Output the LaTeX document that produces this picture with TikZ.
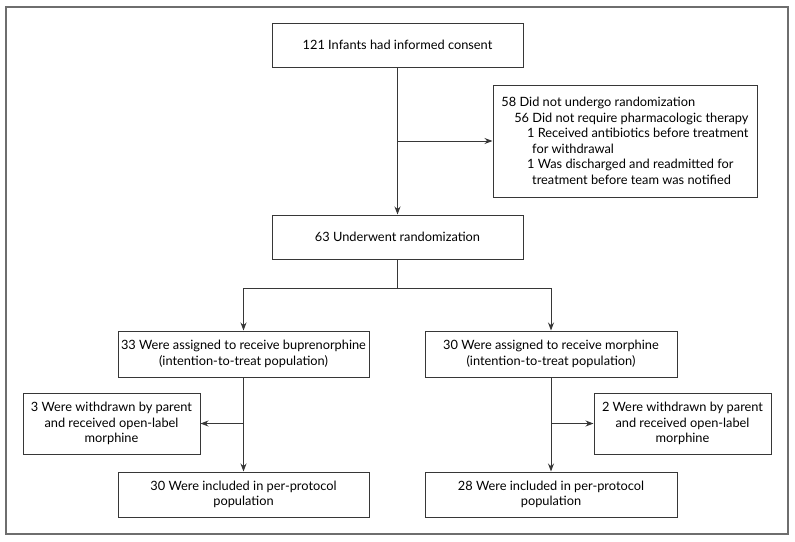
\documentclass[tikz,border=0pt]{standalone}
\usepackage{fontspec}
\setmainfont{Lato}
\usetikzlibrary{arrows.meta, positioning, calc}
\definecolor{boxline}{RGB}{55,55,55}
\definecolor{frameline}{RGB}{110,110,110}

\tikzset{
  flowbox/.style={draw=boxline, line width=1pt, align=center, inner sep=2pt,
    font=\fontsize{12.8}{15.5}\selectfont},
  flowarrow/.style={draw=boxline, line width=1pt, -{Stealth[length=8pt,width=6pt]}}
}

\begin{document}
\begin{tikzpicture}[x=1pt, y=-1pt]
    \useasboundingbox (0,0) rectangle (795,541);
    % Outer frame
    \draw[frameline, line width=1.1pt] (6,7) rectangle (788,534);

    % Enrolment
    \node[flowbox, minimum width=251, minimum height=44] (consent) at (397.5,45) {121 Infants had informed consent};
    \node[flowbox, minimum width=264, minimum height=112, align=left] (excl) at (625,141)
      {58 Did not undergo randomization\\
       \hspace*{1em}56 Did not require pharmacologic therapy\\
       \hspace*{2em}1 Received antibiotics before treatment\\
       \hspace*{2.4em}for withdrawal\\
       \hspace*{2em}1 Was discharged and readmitted for\\
       \hspace*{2.4em}treatment before team was notified};
    \node[flowbox, minimum width=251, minimum height=44] (rand) at (397.5,237) {63 Underwent randomization};

    % Allocation
    \node[flowbox, minimum width=251, minimum height=46] (bup) at (243.5,354) {33 Were assigned to receive buprenorphine\\(intention-to-treat population)};
    \node[flowbox, minimum width=252, minimum height=46] (mor) at (551,354) {30 Were assigned to receive morphine\\(intention-to-treat population)};

    % Withdrawals
    \node[flowbox, minimum width=177, minimum height=61] (wbup) at (111.5,423.5) {3 Were withdrawn by parent\\and received open-label\\morphine};
    \node[flowbox, minimum width=177, minimum height=61] (wmor) at (682.5,423.5) {2 Were withdrawn by parent\\and received open-label\\morphine};

    % Per-protocol
    \node[flowbox, minimum width=251, minimum height=45] (ppbup) at (243.5,494.5) {30 Were included in per-protocol\\population};
    \node[flowbox, minimum width=252, minimum height=45] (ppmor) at (551,494.5) {28 Were included in per-protocol\\population};

    % Connectors
    \draw[flowarrow] (consent) -- (rand);
    \draw[flowarrow] (consent.south |- excl.west) -- (excl.west);
    \draw[flowarrow] (rand.south) -- ++(0,29) -| (bup.north);
    \draw[flowarrow] (rand.south) -- ++(0,29) -| (mor.north);
    \draw[flowarrow] (bup) -- (ppbup);
    \draw[flowarrow] (bup.south |- wbup.east) -- (wbup.east);
    \draw[flowarrow] (mor) -- (ppmor);
    \draw[flowarrow] (mor.south |- wmor.west) -- (wmor.west);
\end{tikzpicture}
\end{document}
